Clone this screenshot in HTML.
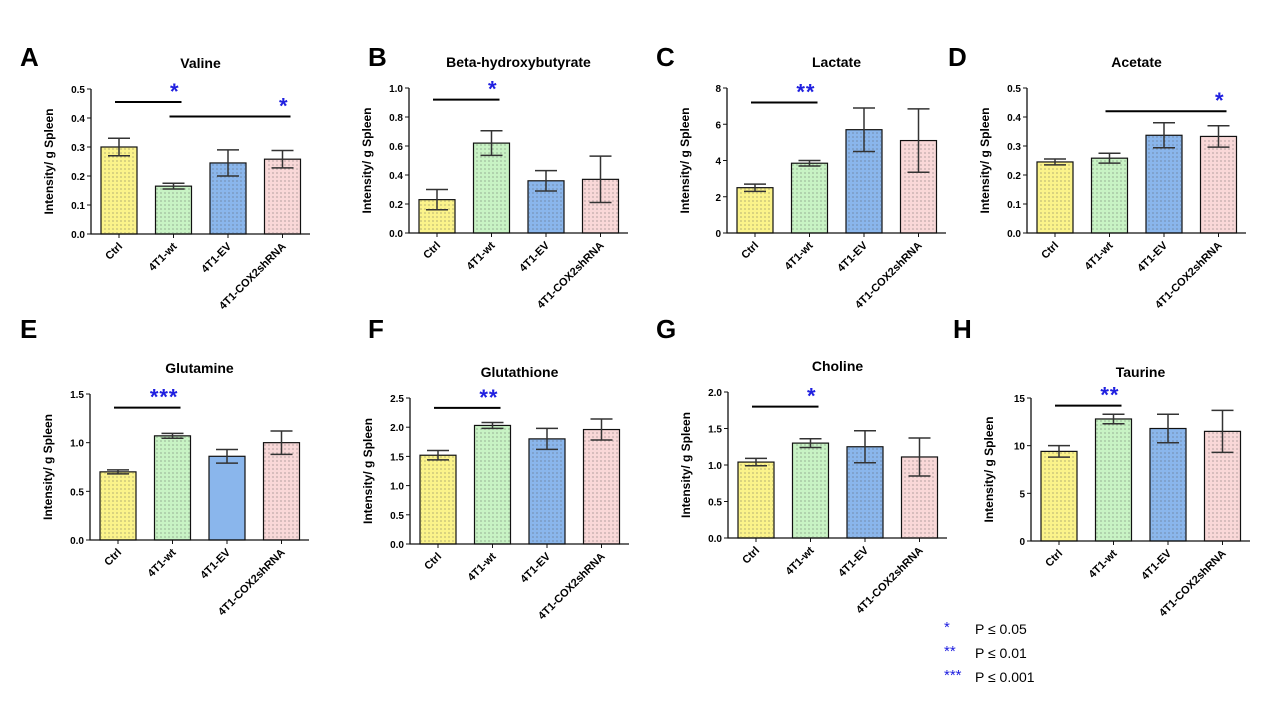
<!DOCTYPE html>
<html><head><meta charset="utf-8">
<style>
body{margin:0;background:#fff;}
svg{display:block;font-family:"Liberation Sans",Arial,sans-serif;}
</style></head>
<body>
<svg id="chart" width="1280" height="720" viewBox="0 0 1280 720">
<defs>
<pattern id="dots" width="4" height="4" patternUnits="userSpaceOnUse"><circle cx="1" cy="1" r="0.55" fill="#555"/></pattern>
</defs>
<g font-family="Liberation Sans, sans-serif">
<text x="944" y="632" fill="#2020e0" font-size="15">*</text>
<text x="975" y="634" font-size="14">P ≤ 0.05</text>
<text x="944" y="656" fill="#2020e0" font-size="15">**</text>
<text x="975" y="658" font-size="14">P ≤ 0.01</text>
<text x="944" y="680" fill="#2020e0" font-size="15">***</text>
<text x="975" y="682" font-size="14">P ≤ 0.001</text>
</g>
</svg>
<script>
const categories = ["Ctrl","4T1-wt","4T1-EV","4T1-COX2shRNA"];
const colors = ["#fbf38a","#c8f3c4","#8ab6ec","#f9d8d8"];
const titles = ["Valine","Beta-hydroxybutyrate","Lactate","Acetate","Glutamine","Glutathione","Choline","Taurine"];
const letters = ["A","B","C","D","E","F","G","H"];
const meansA = [0.30,0.165,0.245,0.258], errA = [0.03,0.01,0.045,0.03];
const meansB = [0.23,0.62,0.36,0.37], errB = [0.07,0.085,0.07,0.16];
const meansC = [2.5,3.85,5.7,5.1], errC = [0.2,0.15,1.2,1.75];
const meansD = [0.245,0.258,0.337,0.333], errD = [0.01,0.017,0.043,0.037];
const meansE = [0.70,1.07,0.86,1.0], errE = [0.02,0.025,0.07,0.12];
const meansF = [1.52,2.03,1.80,1.96], errF = [0.08,0.05,0.18,0.18];
const meansG = [1.04,1.30,1.25,1.11], errG = [0.05,0.06,0.22,0.26];
const meansH = [9.4,12.8,11.8,11.5], errH = [0.6,0.5,1.5,2.2];
const allMeans = [meansA,meansB,meansC,meansD,meansE,meansF,meansG,meansH];
const allErr = [errA,errB,errC,errD,errE,errF,errG,errH];
const ticksA=["0.0","0.1","0.2","0.3","0.4","0.5"], ticksB=["0.0","0.2","0.4","0.6","0.8","1.0"], ticksC=["0","2","4","6","8"], ticksD=["0.0","0.1","0.2","0.3","0.4","0.5"];
const ticksE=["0.0","0.5","1.0","1.5"], ticksF=["0.0","0.5","1.0","1.5","2.0","2.5"], ticksG=["0.0","0.5","1.0","1.5","2.0"], ticksH=["0","5","10","15"];
const allTicks=[ticksA,ticksB,ticksC,ticksD,ticksE,ticksF,ticksG,ticksH];
// significance: [fromIndex, toIndex, level value, stars]
const sigA=[[0,1,0.455,"*"],[1,3,0.405,"*"]], sigB=[[0,1,0.92,"*"]], sigC=[[0,1,7.2,"**"]], sigD=[[1,3,0.42,"*"]];
const sigE=[[0,1,1.36,"***"]], sigF=[[0,1,2.33,"**"]], sigG=[[0,1,1.8,"*"]], sigH=[[0,1,14.2,"**"]];
const allSig=[sigA,sigB,sigC,sigD,sigE,sigF,sigG,sigH];
const layout=[
 {x0:91,top:89,bot:234,lx:20,ly:66},{x0:409,top:88,bot:233,lx:368,ly:66},{x0:727,top:88,bot:233,lx:656,ly:66},{x0:1027,top:88,bot:233,lx:948,ly:66},
 {x0:90,top:394,bot:540,lx:20,ly:338},{x0:410,top:398,bot:544,lx:368,ly:338},{x0:728,top:392,bot:538,lx:656,ly:338},{x0:1031,top:398,bot:541,lx:953,ly:338}];
const NS="http://www.w3.org/2000/svg";
const svg=document.getElementById('chart');
function mk(tag,attrs,parent,text){const e=document.createElementNS(NS,tag);for(const k in attrs)e.setAttribute(k,attrs[k]);if(text!==undefined)e.textContent=text;parent.appendChild(e);return e;}
for(let p=0;p<8;p++){
 const L=layout[p], ticks=allTicks[p], means=allMeans[p], errs=allErr[p];
 const ymax=parseFloat(ticks[ticks.length-1]);
 const y=v=>L.bot-(v/ymax)*(L.bot-L.top);
 const bx=i=>L.x0+10+54.5*i, bw=36, xe=L.x0+219;
 const g=mk('g',{},svg);
 
 
 const lt=mk('text',{x:L.lx,y:L.ly,'font-size':26,'font-weight':'bold'},g,letters[p]);
 
 
 const tt=mk('text',{x:(L.x0+xe)/2,y:L.top-21,'font-size':14,'font-weight':'bold','text-anchor':'middle'},g,titles[p]);
 
 
 const yl=mk('text',{x:0,y:0,'font-size':12,'font-weight':'bold','text-anchor':'middle',transform:`translate(${L.x0-38},${(L.top+L.bot)/2}) rotate(-90)`},g,'Intensity/ g Spleen');
 
 
 for(let i=0;i<4;i++){
  const yt=y(means[i]);
  const r=mk('rect',{x:bx(i),y:yt,width:bw,height:L.bot-yt,fill:colors[i],stroke:'#111','stroke-width':1.2},g);
  
  
  if(!(p===4&&i===2)) mk('rect',{x:bx(i)+1,y:yt+1,width:bw-2,height:Math.max(0,L.bot-yt-2),fill:'url(#dots)'},g);
  const cx=bx(i)+bw/2;
  const eb=mk('path',{d:`M${cx},${y(means[i]+errs[i])}V${y(means[i]-errs[i])}M${cx-11},${y(means[i]+errs[i])}H${cx+11}M${cx-11},${y(means[i]-errs[i])}H${cx+11}`,stroke:'#333','stroke-width':1.5,fill:'none'},g);
  
  
  mk('line',{x1:cx,x2:cx,y1:L.bot,y2:L.bot+4,stroke:'#111'},g);
  const cl=mk('text',{x:0,y:0,'font-size':11,'font-weight':'bold','text-anchor':'end',transform:`translate(${cx+4},${L.bot+13}) rotate(-45)`},g,categories[i]);
  
  
 }
 const ax=mk('path',{d:`M${L.x0},${L.top}V${L.bot}H${xe}`,stroke:'#111','stroke-width':1.3,fill:'none'},g);
 
 
 ticks.forEach(t=>{
  const yy=y(parseFloat(t));
  mk('line',{x1:L.x0-4,x2:L.x0,y1:yy,y2:yy,stroke:'#111'},g);
  const tl=mk('text',{x:L.x0-6,y:yy+4,'font-size':10,'font-weight':'bold','text-anchor':'end'},g,t);
  
  
 });
 allSig[p].forEach(s=>{
  const x1=bx(s[0])+bw/2-4, x2=bx(s[1])+bw/2+8, yy=y(s[2]);
  const sl=mk('line',{x1:x1,x2:x2,y1:yy,y2:yy,stroke:'#000','stroke-width':2},g);
  
  
  const st=mk('text',{x:x2-2,y:yy-3,'font-size':22,'font-weight':'bold',fill:'#2020e0','text-anchor':'end','letter-spacing':'1'},g,s[3]);
  
  
 });
}
</script>
</body></html>
